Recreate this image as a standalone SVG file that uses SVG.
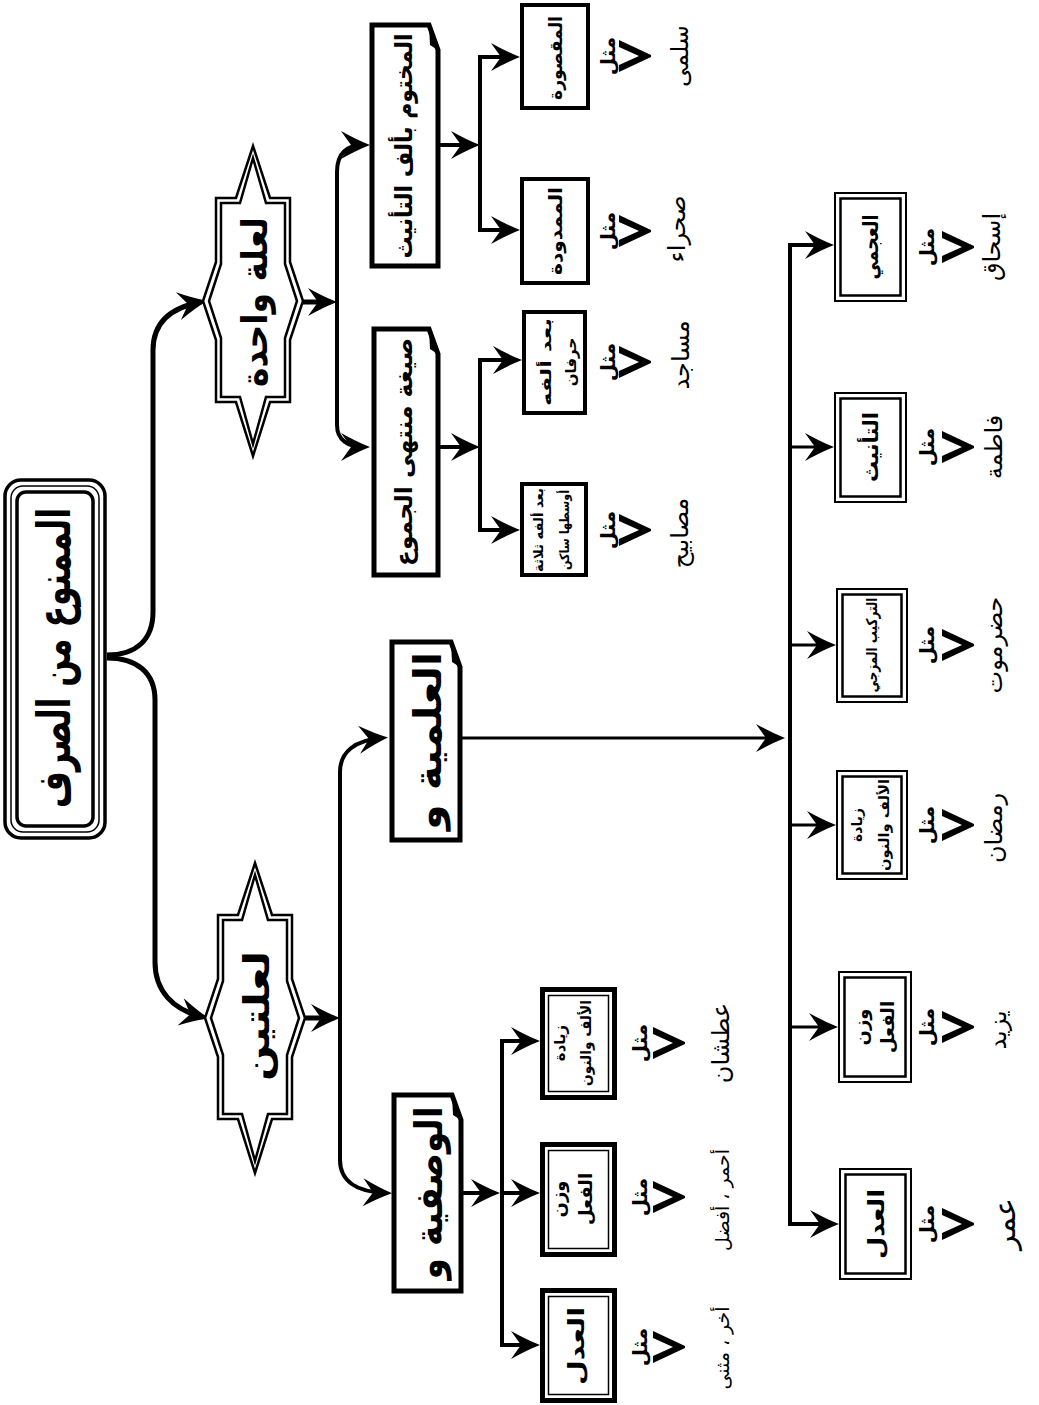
<svg xmlns="http://www.w3.org/2000/svg" xmlns:xlink="http://www.w3.org/1999/xlink" width="1039" height="1405" viewBox="0 0 1039 1405">
<style>
text{font-family:"DejaVu Sans",sans-serif;fill:#000;text-anchor:middle;dominant-baseline:central}
.b{font-weight:bold}
.ex{font-size:24px}
.mt{font-size:20px;font-weight:bold}
.ln{fill:none;stroke:#000;stroke-width:4;stroke-linejoin:miter;marker-end:url(#ah)}
.thick{stroke-width:5}
.thin{stroke-width:3}
.box1{fill:#fff;stroke:#000;stroke-width:4}
.doc{fill:#fff;stroke:#000;stroke-width:5;stroke-linejoin:miter}
.bo{fill:#fff;stroke:#000;stroke-width:5}
.bi{fill:none;stroke:#000;stroke-width:1.5}
.co{fill:#fff;stroke:#000;stroke-width:2}
.ci{fill:none;stroke:#000;stroke-width:2.5}
.starO{fill:#fff;stroke:#000;stroke-width:2.5;stroke-linejoin:miter;stroke-miterlimit:6}
.starI{fill:none;stroke:#000;stroke-width:2.5;stroke-linejoin:miter;stroke-miterlimit:6}
</style>
<defs>
<marker id="ah" markerUnits="userSpaceOnUse" markerWidth="36" markerHeight="30" viewBox="-31 -15 36 30" refX="-6" refY="0" orient="auto" overflow="visible">
<path d="M0,0 Q-13,-5 -29,-14 L-19,0 L-29,14 Q-13,5 0,0 Z" fill="#000"/>
</marker>
<path id="chev" d="M0,-16 L32,-1 L32,1 L0,16 L0,9 L20,0 L0,-9 Z" fill="#000"/>
</defs>
<rect width="1039" height="1405" fill="#fff"/>

<g id="connectors">
<path class="ln thick" d="M107,655 C136,655 153,640 153,612 L153,350 C153,325 168,308 201,302"/>
<path class="ln thick" d="M107,658 C136,658 155,672 155,700 L155,962 C155,990 172,1010 203,1017"/>
<path class="ln thick" d="M300,302 H331"/>
<path class="ln" d="M337,302 V172 C337,152 348,145 364,145"/>
<path class="ln" d="M337,302 V425 C337,440 348,447 364,447"/>
<path class="ln" d="M440,145 H474"/>
<path class="ln" d="M480,145 V57 H514"/>
<path class="ln" d="M480,145 V230 H514"/>
<path class="ln" d="M440,447 H474"/>
<path class="ln" d="M480,447 V360 H516"/>
<path class="ln" d="M480,447 V530 H514"/>
<path class="ln thick" d="M302,1018 H334"/>
<path class="ln" d="M340,1018 V772 C340,752 355,740 382,738"/>
<path class="ln" d="M340,1018 V1160 C340,1180 355,1192 386,1193"/>
<path class="ln thin" d="M462,738 H779"/>
<path class="ln" d="M790,738 V245 H828"/>
<path class="ln" d="M790,738 V1224 H833"/>
<path class="ln thin" d="M790,447 H828"/>
<path class="ln thin" d="M790,645 H830"/>
<path class="ln thin" d="M790,825 H830"/>
<path class="ln thin" d="M790,1027 H832"/>
<path class="ln" d="M463,1193 H494"/>
<path class="ln" d="M502,1193 V1041 H534"/>
<path class="ln" d="M502,1193 V1345 H534"/>
<path class="ln" d="M502,1193 H534"/>
</g>

<g id="root">
<rect x="5" y="480" width="100" height="358" rx="16" fill="#fff" stroke="#000" stroke-width="3.5"/>
<rect x="11" y="486" width="88" height="346" rx="12" fill="none" stroke="#000" stroke-width="1.5"/>
<rect x="17" y="492" width="76" height="334" rx="9" fill="none" stroke="#000" stroke-width="3.5"/>
<text class="b" font-size="46" transform="translate(54,658) rotate(-90)" textLength="300" lengthAdjust="spacingAndGlyphs">الممنوع من الصرف</text>
</g>

<g id="star-one">
<polygon class="starO" points="253,146 270,198 290,198 290,262 303,301 290,340 290,402 270,402 253,456 236,402 216,402 216,340 203,301 216,262 216,198 236,198"/>
<polygon class="starI" points="253,158 266,203 285,203 285,264 297,301 285,338 285,397 266,397 253,444 240,397 221,397 221,338 209,301 221,264 221,203 240,203"/>
<text class="b" font-size="36" transform="translate(254,302) rotate(-90)" textLength="170" lengthAdjust="spacingAndGlyphs">لعلة واحدة</text>
</g>

<g id="star-two">
<polygon class="starO" points="255,863 272,915 292,915 292,979 305,1018 292,1057 292,1119 272,1119 255,1173 238,1119 218,1119 218,1057 205,1018 218,979 218,915 238,915"/>
<polygon class="starI" points="255,875 268,920 287,920 287,981 299,1018 287,1055 287,1114 268,1114 255,1161 242,1114 223,1114 223,1055 211,1018 223,981 223,920 242,920"/>
<text class="b" font-size="36" transform="translate(256,1016) rotate(-90)" textLength="130" lengthAdjust="spacingAndGlyphs">لعلتين</text>
</g>

<g id="n-makhtum">
<path class="doc" d="M372,25 H429 L438,50 V266 H372 Z"/>
<path d="M429,25 L438,50 L430,45 Z" fill="#000"/>
<text class="b" font-size="24" transform="translate(404,146) rotate(-90)" textLength="225" lengthAdjust="spacingAndGlyphs">المختوم بألف التأنيث</text>
</g>

<g id="n-sigha">
<path class="doc" d="M374,329 H429 L438,354 V575 H374 Z"/>
<path d="M429,329 L438,354 L430,349 Z" fill="#000"/>
<text class="b" font-size="24" transform="translate(404,452) rotate(-90)" textLength="228" lengthAdjust="spacingAndGlyphs">صيغة منتهى الجموع</text>
</g>

<g id="n-alamiyya">
<path class="doc" d="M392,642 H451 L460,667 V840 H392 Z"/>
<path d="M451,642 L460,667 L452,662 Z" fill="#000"/>
<text class="b" font-size="38" transform="translate(428,741) rotate(-90)" textLength="178" lengthAdjust="spacingAndGlyphs">العلمية  و</text>
</g>

<g id="n-wasfiyya">
<path class="doc" d="M394,1095 H452 L461,1120 V1291 H394 Z"/>
<path d="M452,1095 L461,1120 L453,1115 Z" fill="#000"/>
<text class="b" font-size="38" transform="translate(429,1193) rotate(-90)" textLength="173" lengthAdjust="spacingAndGlyphs">الوصفية  و</text>
</g>

<g id="n-maqsura">
<rect class="box1" x="522" y="5" width="66" height="103"/>
<text class="b" font-size="18" transform="translate(555,58) rotate(-90)" textLength="84" lengthAdjust="spacingAndGlyphs">المقصورة</text>
</g>
<g id="n-mamduda">
<rect class="box1" x="522" y="179" width="66" height="104"/>
<text class="b" font-size="18" transform="translate(555,231) rotate(-90)" textLength="88" lengthAdjust="spacingAndGlyphs">الممدودة</text>
</g>
<g id="n-harfan">
<rect class="box1" x="524" y="312" width="61" height="101"/>
<text class="b" font-size="15" transform="translate(546,362) rotate(-90)" textLength="88" lengthAdjust="spacingAndGlyphs">بعد ألفه</text>
<text class="b" font-size="15" transform="translate(571,362) rotate(-90)">حرفان</text>
</g>
<g id="n-thalatha">
<rect class="box1" x="522" y="484" width="64" height="91"/>
<text class="b" font-size="13" transform="translate(538,530) rotate(-90)" textLength="84" lengthAdjust="spacingAndGlyphs">بعد ألفه ثلاثة</text>
<text class="b" font-size="13" transform="translate(564,530) rotate(-90)" textLength="80" lengthAdjust="spacingAndGlyphs">أوسطها ساكن</text>
</g>

<g id="ex-upper">
<text class="mt" transform="translate(608,56) rotate(-90)">مثل</text>
<use xlink:href="#chev" x="619" y="56"/>
<text class="ex" transform="translate(680,56) rotate(-90)">سلمى</text>
<text class="mt" transform="translate(608,231) rotate(-90)">مثل</text>
<use xlink:href="#chev" x="619" y="231"/>
<text class="ex" transform="translate(677,229) rotate(-90)">صحراء</text>
<text class="mt" transform="translate(608,362) rotate(-90)">مثل</text>
<use xlink:href="#chev" x="619" y="362"/>
<text class="ex" transform="translate(681,355) rotate(-90)">مساجد</text>
<text class="mt" transform="translate(608,530) rotate(-90)">مثل</text>
<use xlink:href="#chev" x="619" y="530"/>
<text class="ex" transform="translate(680,533) rotate(-90)">مصابيح</text>
</g>

<g id="n-w-ziyada">
<rect class="bo" x="542.5" y="989.5" width="72" height="108"/>
<rect class="bi" x="548.5" y="995.5" width="60" height="96"/>
<text class="b" font-size="15" transform="translate(560,1043) rotate(-90)">زيادة</text>
<text class="b" font-size="15" transform="translate(586,1043) rotate(-90)" textLength="86" lengthAdjust="spacingAndGlyphs">الألف والنون</text>
</g>
<g id="n-w-wazn">
<rect class="bo" x="542.5" y="1144.5" width="72" height="110"/>
<rect class="bi" x="548.5" y="1150.5" width="60" height="98"/>
<text class="b" font-size="18" transform="translate(558,1199) rotate(-90)">وزن</text>
<text class="b" font-size="18" transform="translate(585,1199) rotate(-90)">الفعل</text>
</g>
<g id="n-w-adl">
<rect class="bo" x="542.5" y="1290.5" width="72" height="110"/>
<rect class="bi" x="548.5" y="1296.5" width="60" height="98"/>
<text class="b" font-size="22" transform="translate(576,1346) rotate(-90)" textLength="78" lengthAdjust="spacingAndGlyphs">العدل</text>
</g>

<g id="ex-wasf">
<text class="mt" transform="translate(640,1043) rotate(-90)">مثل</text>
<use xlink:href="#chev" x="653" y="1043"/>
<text class="ex" transform="translate(721,1043) rotate(-90)">عطشان</text>
<text class="mt" transform="translate(640,1197) rotate(-90)">مثل</text>
<use xlink:href="#chev" x="653" y="1197"/>
<text font-size="19" transform="translate(722,1200) rotate(-90)">أحمر ، أفضل</text>
<text class="mt" transform="translate(640,1347) rotate(-90)">مثل</text>
<use xlink:href="#chev" x="653" y="1347"/>
<text font-size="19" transform="translate(722,1348) rotate(-90)">أخر ، مثنى</text>
</g>

<g id="n-a-ajami">
<rect class="co" x="835" y="193" width="71" height="108"/>
<rect class="ci" x="840.5" y="198.5" width="60" height="97"/>
<text class="b" font-size="21" transform="translate(871,247) rotate(-90)" textLength="65" lengthAdjust="spacingAndGlyphs">العجمي</text>
</g>
<g id="n-a-tanith">
<rect class="co" x="835" y="393" width="71" height="109"/>
<rect class="ci" x="840.5" y="398.5" width="60" height="98"/>
<text class="b" font-size="21" transform="translate(871,447) rotate(-90)" textLength="70" lengthAdjust="spacingAndGlyphs">التأنيث</text>
</g>
<g id="n-a-tarkib">
<rect class="co" x="837" y="589" width="70" height="113"/>
<rect class="ci" x="842.5" y="594.5" width="59" height="102"/>
<text class="b" font-size="15" transform="translate(872,645) rotate(-90)" textLength="95" lengthAdjust="spacingAndGlyphs">التركيب المزجي</text>
</g>
<g id="n-a-ziyada">
<rect class="co" x="837" y="771" width="70" height="108"/>
<rect class="ci" x="842.5" y="776.5" width="59" height="97"/>
<text class="b" font-size="14" transform="translate(857,825) rotate(-90)">زيادة</text>
<text class="b" font-size="14" transform="translate(884,825) rotate(-90)" textLength="92" lengthAdjust="spacingAndGlyphs">الألف والنون</text>
</g>
<g id="n-a-wazn">
<rect class="co" x="839" y="972" width="72" height="110"/>
<rect class="ci" x="844.5" y="977.5" width="61" height="99"/>
<text class="b" font-size="18" transform="translate(861,1027) rotate(-90)">وزن</text>
<text class="b" font-size="18" transform="translate(887,1027) rotate(-90)">الفعل</text>
</g>
<g id="n-a-adl">
<rect class="co" x="840" y="1169" width="71" height="110"/>
<rect class="ci" x="845.5" y="1174.5" width="60" height="99"/>
<text class="b" font-size="22" transform="translate(876,1224) rotate(-90)" textLength="70" lengthAdjust="spacingAndGlyphs">العدل</text>
</g>

<g id="ex-alam">
<text class="mt" transform="translate(927,247) rotate(-90)">مثل</text>
<use xlink:href="#chev" x="942" y="247"/>
<text class="ex" transform="translate(992,247) rotate(-90)">إسحاق</text>
<text class="mt" transform="translate(927,447) rotate(-90)">مثل</text>
<use xlink:href="#chev" x="942" y="447"/>
<text class="ex" transform="translate(994,447) rotate(-90)">فاطمة</text>
<text class="mt" transform="translate(927,645) rotate(-90)">مثل</text>
<use xlink:href="#chev" x="942" y="645"/>
<text class="ex" transform="translate(994,645) rotate(-90)">حضرموت</text>
<text class="mt" transform="translate(927,825) rotate(-90)">مثل</text>
<use xlink:href="#chev" x="942" y="825"/>
<text class="ex" transform="translate(994,828) rotate(-90)">رمضان</text>
<text class="mt" transform="translate(927,1027) rotate(-90)">مثل</text>
<use xlink:href="#chev" x="942" y="1027"/>
<text class="ex" transform="translate(998,1030) rotate(-90)">يزيد</text>
<text class="mt" transform="translate(927,1224) rotate(-90)">مثل</text>
<use xlink:href="#chev" x="942" y="1224"/>
<text font-size="30" transform="translate(1004,1224) rotate(-90)">عمر</text>
</g>
</svg>
